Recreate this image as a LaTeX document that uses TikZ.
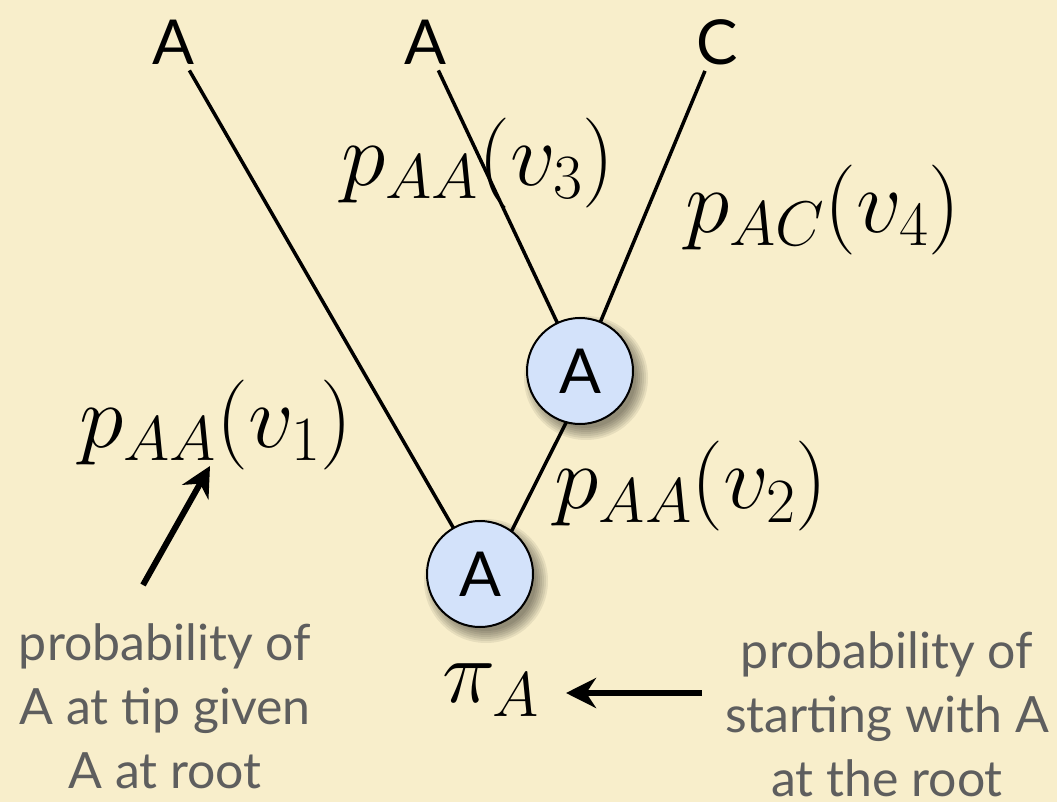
\RequirePackage{fix-cm}
\documentclass[tikz,border=0pt]{standalone}
\usepackage{fontspec}
\setsansfont{Lato}
\usetikzlibrary{arrows.meta, positioning}
\pgfdeclarelayer{paperlayer}
\pgfdeclarelayer{edgelayer}
\pgfsetlayers{paperlayer,edgelayer,main}
\definecolor{paper}{HTML}{F8EECB}
\definecolor{nodeblue}{HTML}{D3E2FA}
\definecolor{notegray}{HTML}{5E5E5E}
\tikzset{
  treenode/.style={circle, draw, line width=2pt, fill=nodeblue, minimum size=106pt, inner sep=0pt,
    font=\sffamily\fontsize{62}{62}\selectfont},
  tiplabel/.style={font=\sffamily\fontsize{62}{62}\selectfont, inner sep=6pt},
  branch/.style={line width=3.5pt},
  softshadow/.style={fill=black, opacity=0.07},
  mathlabel/.style={font=\fontsize{90}{90}\selectfont, inner sep=0pt},
  note/.style={align=center, text=notegray, font=\sffamily\fontsize{50}{64}\selectfont},
  pointer/.style={-{Stealth[length=30pt, width=30pt]}, line width=6pt}
}
\begin{document}
\begin{tikzpicture}[x=1pt, y=-1pt]
  \begin{pgfonlayer}{paperlayer}
    \fill[paper] (0,0) rectangle (1057,802);
  \end{pgfonlayer}
  \useasboundingbox (0,0) rectangle (1057,802);
  % tips
  \node[tiplabel] (tipA) at (173,42) {A};
  \node[tiplabel] (tipB) at (425,42) {A};
  \node[tiplabel] (tipC) at (717,42) {C};
  % inner nodes
  \node[treenode] (inner) at (580,371) {A};
  \node[treenode] (root) at (480,574) {A};
  % shadows and branches
  \begin{pgfonlayer}{edgelayer}
    \foreach \n in {inner, root}
      \foreach \r in {50,52,...,62}
        \fill[softshadow] ([shift={(6pt,-7pt)}]\n.center) circle (\r pt);
    \draw[branch] (tipA) -- (root.center);
    \draw[branch] (tipB) -- (inner.center);
    \draw[branch] (tipC) -- (inner.center);
    \draw[branch] ([xshift=10pt]root.center) -- ([xshift=12pt]inner.center);
  \end{pgfonlayer}
  % branch probabilities
  \node[mathlabel] (pv3) at (478,163) {$p_{AA}(v_3)$};
  \node[mathlabel] (pv4) at (823,210) {$p_{AC}(v_4)$};
  \node[mathlabel] (pv1) at (216,425) {$p_{AA}(v_1)$};
  \node[mathlabel] (pv2) at (691,486) {$p_{AA}(v_2)$};
  \node[mathlabel] (piA) at (491,690) {$\pi_A$};
  % notes
  \node[note] (noteL) at (165,706) {probability of\\A at tip given\\A at root};
  \node[note] (noteR) at (887,714) {probability of\\starting with A\\at the root};
  \coordinate (fromL) at (143,585);
  \coordinate (toL) at (210,466);
  \coordinate (fromR) at (702,693);
  \coordinate (toR) at (566,693);
  \draw[pointer] (fromL) -- (toL);
  \draw[pointer] (fromR) -- (toR);
\end{tikzpicture}
\end{document}
